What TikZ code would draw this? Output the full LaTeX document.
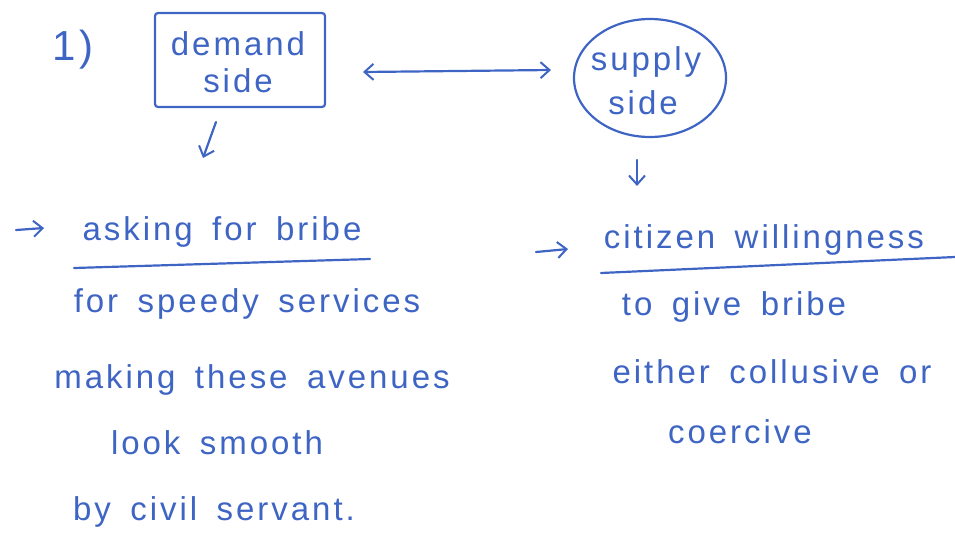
\documentclass[tikz,border=0pt]{standalone}
\usepackage{fontspec}
\setmainfont{Liberation Sans}[LetterSpace=9, WordSpace={1.6}]
\usetikzlibrary{arrows.meta,shapes.geometric}
\definecolor{ink}{RGB}{62,100,196}
\tikzset{
  pen/.style={draw=ink, line width=2.2pt, line cap=round, line join=round},
  barb/.tip={Straight Barb[length=9pt,width=16pt,line width=2pt]},
  tip/.style={-barb},
  hand/.style={text=ink, font=\fontsize{33}{36}\selectfont, inner sep=0pt, anchor=base},
}
\begin{document}
\begin{tikzpicture}[x=1pt,y=-1pt]
  \useasboundingbox (0,0) rectangle (955,536);

  % heading number
  \node[hand, font=\fontsize{42}{44}\selectfont] (num) at (73,60) {1)};

  % the two sides
  \node[pen, minimum width=170pt, minimum height=94pt, rounded corners=3pt] (demand) at (240,60) {};
  \node[hand] (demandA) at (238,55) {demand};
  \node[hand] (demandB) at (238,92) {side};

  \node[pen, ellipse, minimum width=152pt, minimum height=118pt] (supply) at (650,78) {};
  \node[hand] (supplyA) at (646,70) {supply};
  \node[hand] (supplyB) at (643,114) {side};

  % link between sides
  \coordinate (la) at (363,72);
  \coordinate (lb) at (551,70);
  \draw[pen, barb-barb] (la) -- (lb);

  % arrows down from each side
  \coordinate (da) at (216,122);
  \coordinate (db) at (203,158);
  \draw[pen, tip] (da) -- (db);
  \coordinate (sa) at (637,160);
  \coordinate (sb) at (637,186);
  \draw[pen, tip] (sa) -- (sb);

  % demand side points
  \coordinate (ma) at (16,230);
  \coordinate (mb) at (44,228);
  \draw[pen, tip] (ma) -- (mb);
  \node[hand] (ask) at (222,240) {asking for bribe};
  \coordinate (ua) at (74,268);
  \coordinate (ub) at (370,259);
  \draw[pen] (ua) -- (ub);
  \node[hand] (speedy) at (247,312) {for speedy services};
  \node[hand] (making) at (252,388) {making these avenues};
  \node[hand] (look) at (217,454) {look smooth};
  \node[hand] (civil) at (214,520) {by civil servant.};

  % supply side points
  \coordinate (na) at (536,252);
  \coordinate (nb) at (568,249);
  \draw[pen, tip] (na) -- (nb);
  \node[hand] (citizen) at (764,248) {citizen willingness};
  \coordinate (va) at (601,273);
  \coordinate (vb) at (955,257);
  \draw[pen] (va) -- (vb);
  \node[hand] (give) at (734,315) {to give bribe};
  \node[hand] (either) at (772,383) {either collusive or};
  \node[hand] (coercive) at (740,443) {coercive};
\end{tikzpicture}
\end{document}
